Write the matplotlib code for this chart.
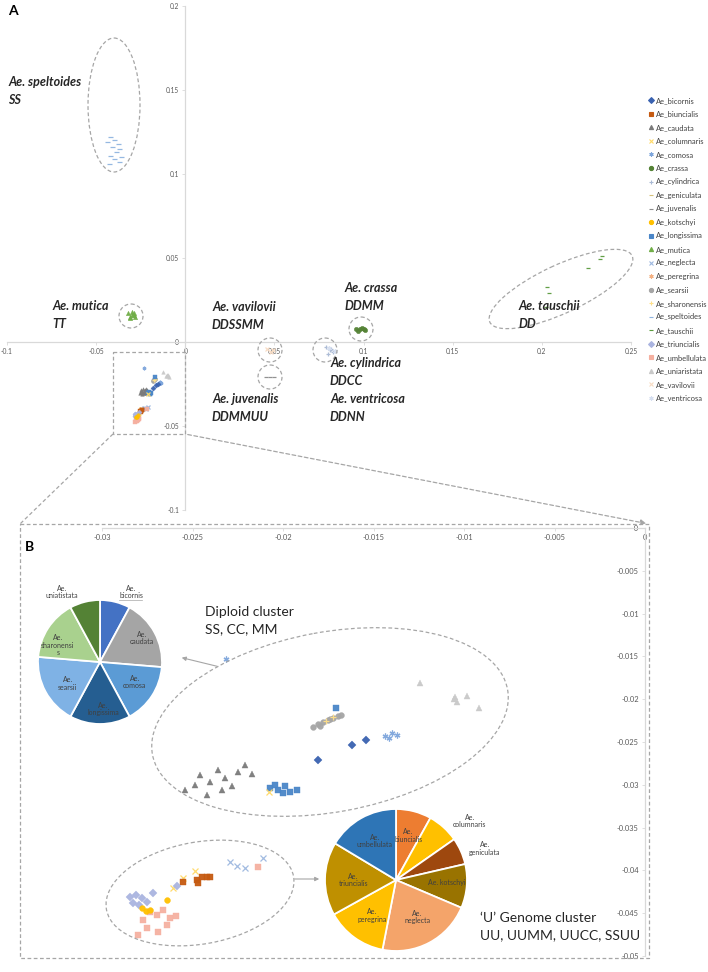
import matplotlib
matplotlib.use('Agg')
import matplotlib.pyplot as plt
from matplotlib.patches import Ellipse, Rectangle, FancyArrowPatch
from matplotlib.lines import Line2D
import numpy as np

plt.rcParams['font.family'] = ['Lato', 'DejaVu Sans']

# ---------------- DATA ----------------
SPECIES = ['Ae_bicornis', 'Ae_biuncialis', 'Ae_caudata', 'Ae_columnaris', 'Ae_comosa',
           'Ae_crassa', 'Ae_cylindrica', 'Ae_geniculata', 'Ae_juvenalis', 'Ae_kotschyi',
           'Ae_longissima', 'Ae_mutica', 'Ae_neglecta', 'Ae_peregrina', 'Ae_searsii',
           'Ae_sharonensis', 'Ae_speltoides', 'Ae_tauschii', 'Ae_triuncialis',
           'Ae_umbellulata', 'Ae_uniaristata', 'Ae_vavilovii', 'Ae_ventricosa']

# Panel A (whole PCA)
A_SPELTOIDES_X = [-0.042, -0.040, -0.038, -0.041, -0.037, -0.039, -0.042, -0.036, -0.040, -0.044, -0.043, -0.037]
A_SPELTOIDES_Y = [0.122, 0.120, 0.118, 0.116, 0.115, 0.113, 0.111, 0.110, 0.109, 0.119, 0.106, 0.107]
A_MUTICA_X = [-0.032, -0.031, -0.029, -0.030, -0.028, -0.031, -0.029, -0.030]
A_MUTICA_Y = [0.017, 0.015, 0.016, 0.018, 0.015, 0.014, 0.017, 0.016]
A_VAVILOVII_X = [0.046, 0.048, 0.049]
A_VAVILOVII_Y = [-0.004, -0.006, -0.005]
A_JUVENALIS_X = [0.045, 0.0475, 0.050]
A_JUVENALIS_Y = [-0.021, -0.0208, -0.021]
A_CRASSA_X = [0.096, 0.098, 0.100, 0.101, 0.097, 0.099]
A_CRASSA_Y = [0.0075, 0.0080, 0.0078, 0.0072, 0.0068, 0.0085]
A_CYLINDRICA_X = [0.079, 0.081, 0.083, 0.080, 0.082]
A_CYLINDRICA_Y = [-0.003, -0.005, -0.006, -0.007, -0.004]
A_VENTRICOSA_X = [0.084, 0.0805]
A_VENTRICOSA_Y = [-0.0055, -0.0035]
A_TAUSCHII_X = [0.2326, 0.2337, 0.226, 0.203, 0.204, 0.2023]
A_TAUSCHII_Y = [0.0494, 0.0512, 0.044, 0.0327, 0.0292, 0.0208]

# Panel B (zoom of the lower-left cluster)
B_UNIARISTATA_X = [-0.01243, -0.0105, -0.00983, -0.00917, -0.01039, -0.01055]
B_UNIARISTATA_Y = [-0.0181, -0.0197, -0.0196, -0.0210, -0.0203, -0.0200]
B_LONGISSIMA_X = [-0.01707, -0.02072, -0.02028, -0.01989, -0.01961, -0.01923, -0.0200, -0.02044]
B_LONGISSIMA_Y = [-0.0210, -0.0304, -0.0306, -0.0301, -0.0308, -0.0306, -0.0310, -0.0300]
B_SEARSII_X = [-0.01834, -0.01807, -0.01779, -0.01751, -0.01724, -0.01696, -0.0168, -0.01796, -0.0174]
B_SEARSII_Y = [-0.02325, -0.0229, -0.02266, -0.02243, -0.0222, -0.02196, -0.02185, -0.02313, -0.02231]
B_SHARONENSIS_X = [-0.01724, -0.0176]
B_SHARONENSIS_Y = [-0.02208, -0.0226]
B_COMOSA_X = [-0.02315, -0.01436, -0.01398, -0.0137, -0.01414]
B_COMOSA_Y = [-0.0153, -0.0243, -0.02395, -0.02418, -0.02453]
B_CAUDATA_X = [-0.02541, -0.02459, -0.02403, -0.02359, -0.0232, -0.02282, -0.02249, -0.0221, -0.02171, -0.02337, -0.0242, -0.02486]
B_CAUDATA_Y = [-0.0306, -0.02886, -0.02967, -0.02827, -0.0292, -0.03014, -0.0285, -0.02769, -0.02874, -0.0306, -0.03119, -0.03002]
B_BICORNIS_X = [-0.01619, -0.01541, -0.01807]
B_BICORNIS_Y = [-0.02535, -0.02477, -0.0271]
B_COLUMNARIS_X = [-0.02077, -0.02552, -0.02486, -0.02608]
B_COLUMNARIS_Y = [-0.03084, -0.04089, -0.04007, -0.04206]
B_NEGLECTA_X = [-0.02293, -0.02254, -0.0221, -0.0211]
B_NEGLECTA_Y = [-0.0390, -0.03949, -0.03972, -0.03855]
B_UMBELLULATA_X = [-0.02138, -0.02735, -0.02696, -0.02663, -0.02624, -0.02591, -0.02773, -0.0275, -0.0269, -0.0264, -0.0280]
B_UMBELLULATA_Y = [-0.0396, -0.04486, -0.04521, -0.04463, -0.04556, -0.04533, -0.0458, -0.04673, -0.0472, -0.04638, -0.04755]
B_BIUNCIALIS_X = [-0.02552, -0.02475, -0.02448, -0.0242, -0.02403, -0.0247]
B_BIUNCIALIS_Y = [-0.04136, -0.04112, -0.04077, -0.04077, -0.04077, -0.04147]
B_TRIUNCIALIS_X = [-0.02845, -0.02812, -0.02779, -0.02751, -0.02829, -0.02796, -0.02718, -0.02586]
B_TRIUNCIALIS_Y = [-0.04311, -0.04287, -0.04322, -0.04369, -0.04381, -0.04404, -0.04264, -0.04182]
B_KOTSCHYI_X = [-0.02641, -0.02779, -0.02757, -0.02735]
B_KOTSCHYI_Y = [-0.04346, -0.04439, -0.04474, -0.04463]

# Pie charts (accession counts)
PIE1_LABELS = ['Ae.\nbicornis', 'Ae.\ncaudata', 'Ae.\ncomosa', 'Ae.\nlongissima',
               'Ae.\nsearsii', 'Ae.\nsharonensi\ns', 'Ae.\nuniatistata']
PIE1_VALUES = [3, 7, 6, 6, 7, 6, 3]
PIE2_LABELS = ['Ae.\nbiuncialis', 'Ae.\ncolumnaris', 'Ae.\ngeniculata', 'Ae. kotschyi',
               'Ae.\nneglecta', 'Ae.\nperegrina', 'Ae.\ntriuncialis', 'Ae.\numbellulata']
PIE2_VALUES = [29, 26, 22, 36, 78, 50, 60, 59]

# ---------------- STYLE ----------------
AST = (6, 2, 0)
STYLE = {
    'Ae_bicornis': ('D', '#3a62b0'), 'Ae_biuncialis': ('s', '#c55a11'),
    'Ae_caudata': ('^', '#7a7a7a'), 'Ae_columnaris': ('x', '#ffd966'),
    'Ae_comosa': (AST, '#7ea6dc'), 'Ae_crassa': ('o', '#548235'),
    'Ae_cylindrica': ('+', '#a9b9d4'), 'Ae_geniculata': ('_', '#d6c27a'),
    'Ae_juvenalis': ('_', '#8c8c8c'), 'Ae_kotschyi': ('o', '#ffc000'),
    'Ae_longissima': ('s', '#4a86c8'), 'Ae_mutica': ('^', '#70ad47'),
    'Ae_neglecta': ('x', '#9db8e0'), 'Ae_peregrina': (AST, '#f4b183'),
    'Ae_searsii': ('o', '#a5a5a5'), 'Ae_sharonensis': ('+', '#ffe08a'),
    'Ae_speltoides': ('_', '#8fb4e0'), 'Ae_tauschii': ('_', '#5a9a3c'),
    'Ae_triuncialis': ('D', '#aab4e0'), 'Ae_umbellulata': ('s', '#f5b0a0'),
    'Ae_uniaristata': ('^', '#c9c9c9'), 'Ae_vavilovii': ('x', '#f8dcc4'),
    'Ae_ventricosa': (AST, '#d6dff0'),
}
PIE1_COLORS = ['#4472c4', '#a5a5a5', '#5b9bd5', '#255e91', '#7fb2e5', '#a9d18e', '#548235']
PIE2_COLORS = ['#ed7d31', '#ffc000', '#9e480e', '#997300', '#f4a46a', '#ffc000', '#bf9000', '#2e75b6']

W, H = 708, 972
fig = plt.figure(figsize=(W / 100, H / 100), dpi=100)


def rect(x0, y0, x1, y1):
    return [x0 / W, 1 - y1 / H, (x1 - x0) / W, (y1 - y0) / H]


AXC = '#d9d9d9'
TXC = '#595959'


def excel_axes(ax, xt, yt, fs):
    for s in ['top', 'right']:
        ax.spines[s].set_visible(False)
    ax.spines['left'].set_position(('data', 0))
    ax.spines['bottom'].set_position(('data', 0))
    for s in ['left', 'bottom']:
        ax.spines[s].set_color(AXC)
        ax.spines[s].set_linewidth(0.9)
    ax.set_xticks(xt)
    ax.set_yticks(yt)
    ax.set_xticklabels([f'{round(v, 3):g}' for v in xt])
    ax.set_yticklabels([f'{round(v, 3):g}' for v in yt])
    ax.tick_params(colors=AXC, labelcolor=TXC, labelsize=fs, length=2.5, width=0.6, pad=2)
    ax.patch.set_alpha(0)


# ---------------- PANEL A ----------------
axA = fig.add_axes(rect(7, 6, 631, 510))
axA.set_xlim(-0.1, 0.25)
axA.set_ylim(-0.1, 0.2)
excel_axes(axA, np.arange(-0.1, 0.2501, 0.05), np.arange(-0.1, 0.2001, 0.05), 4.8)

A_SETS = [('Ae_speltoides', A_SPELTOIDES_X, A_SPELTOIDES_Y), ('Ae_mutica', A_MUTICA_X, A_MUTICA_Y),
          ('Ae_vavilovii', A_VAVILOVII_X, A_VAVILOVII_Y), ('Ae_juvenalis', A_JUVENALIS_X, A_JUVENALIS_Y),
          ('Ae_crassa', A_CRASSA_X, A_CRASSA_Y), ('Ae_cylindrica', A_CYLINDRICA_X, A_CYLINDRICA_Y),
          ('Ae_ventricosa', A_VENTRICOSA_X, A_VENTRICOSA_Y), ('Ae_tauschii', A_TAUSCHII_X, A_TAUSCHII_Y)]
B_SETS = [('Ae_uniaristata', B_UNIARISTATA_X, B_UNIARISTATA_Y), ('Ae_searsii', B_SEARSII_X, B_SEARSII_Y),
          ('Ae_sharonensis', B_SHARONENSIS_X, B_SHARONENSIS_Y), ('Ae_caudata', B_CAUDATA_X, B_CAUDATA_Y),
          ('Ae_longissima', B_LONGISSIMA_X, B_LONGISSIMA_Y), ('Ae_comosa', B_COMOSA_X, B_COMOSA_Y),
          ('Ae_bicornis', B_BICORNIS_X, B_BICORNIS_Y), ('Ae_columnaris', B_COLUMNARIS_X, B_COLUMNARIS_Y),
          ('Ae_neglecta', B_NEGLECTA_X, B_NEGLECTA_Y), ('Ae_umbellulata', B_UMBELLULATA_X, B_UMBELLULATA_Y),
          ('Ae_biuncialis', B_BIUNCIALIS_X, B_BIUNCIALIS_Y), ('Ae_triuncialis', B_TRIUNCIALIS_X, B_TRIUNCIALIS_Y),
          ('Ae_kotschyi', B_KOTSCHYI_X, B_KOTSCHYI_Y)]


def draw(ax, name, xs, ys, ms):
    m, c = STYLE[name]
    filled = m not in ('x', '+', '_', AST)
    ax.plot(xs, ys, linestyle='none', marker=m, color=c, markersize=ms,
            markeredgewidth=0.9 if not filled else 0.3, markeredgecolor=c, alpha=0.95)


for n, xs, ys in A_SETS:
    draw(axA, n, xs, ys, 3.6 if n == 'Ae_speltoides' else 3.2)
for n, xs, ys in B_SETS:
    draw(axA, n, xs, ys, 2.6)

# legend
handles = []
for n in SPECIES:
    m, c = STYLE[n]
    handles.append(Line2D([], [], linestyle='none', marker=m, color=c, markersize=3,
                          markeredgewidth=0.8))
fig.legend(handles, SPECIES, loc='upper left', bbox_to_anchor=(649 / W, 1 - 97 / H),
           frameon=False, fontsize=5.4, labelspacing=0.87, handlelength=0.6, handletextpad=0.3,
           borderaxespad=0, borderpad=0, labelcolor='#404040')

# ---------------- PANEL B ----------------
axB = fig.add_axes(rect(102, 528, 645, 956))
axB.set_xlim(-0.03, 0)
axB.set_ylim(-0.05, 0)
excel_axes(axB, np.arange(-0.03, 0.0001, 0.005), np.arange(-0.05, 0.0001, 0.005), 5.4)
for n, xs, ys in B_SETS:
    draw(axB, n, xs, ys, 4.2)

# pies
ax1 = fig.add_axes(rect(100 - 62, 662 - 62, 100 + 62, 662 + 62))
w1, _ = ax1.pie(PIE1_VALUES, colors=PIE1_COLORS, startangle=90, counterclock=False,
                wedgeprops=dict(edgecolor='white', linewidth=1.3))
ax1.set_xlim(-1, 1); ax1.set_ylim(-1, 1); ax1.set_axis_off()
P1_POS = [(0.50, 1.13), (0.68, 0.39), (0.56, -0.32), (0.05, -0.76), (-0.52, -0.35), (-0.68, 0.27), (-0.61, 1.13)]
for lab, (px, py) in zip(PIE1_LABELS, P1_POS):
    ax1.text(px, py, lab, ha='center', va='center', fontsize=5, color='#404040',
             linespacing=1.1, clip_on=False)

ax2 = fig.add_axes(rect(396 - 71, 880 - 71, 396 + 71, 880 + 71))
w2, _ = ax2.pie(PIE2_VALUES, colors=PIE2_COLORS, startangle=90, counterclock=False,
                wedgeprops=dict(edgecolor='white', linewidth=1.3))
ax2.set_xlim(-1, 1); ax2.set_ylim(-1, 1); ax2.set_axis_off()
P2_POS = [(0.17, 0.63), (1.04, 0.83), (1.25, 0.44), (0.72, -0.04), (0.30, -0.52), (-0.34, -0.50), (-0.60, 0.0), (-0.30, 0.55)]
for lab, (px, py) in zip(PIE2_LABELS, P2_POS):
    ax2.text(px, py, lab, ha='center', va='center', fontsize=5, color='#404040',
             linespacing=1.1, clip_on=False)

# ---------------- OVERLAY (annotations) ----------------
ov = fig.add_axes([0, 0, 1, 1])
ov.set_xlim(0, W); ov.set_ylim(H, 0); ov.set_axis_off(); ov.patch.set_alpha(0)
DC = '#a6a6a6'
dash = dict(fill=False, edgecolor=DC, linewidth=0.9, linestyle=(0, (3, 2)))
for (cx, cy, ew, eh, ang) in [(114, 105, 52, 134, 0), (131, 316, 24, 24, 0), (270, 350, 24, 24, 0),
                              (270, 377, 24, 24, 0), (361, 329, 24, 24, 0), (325, 350, 24, 24, 0),
                              (561, 289, 157, 48, -25), (330, 722, 361, 180, -10.4),
                              (200, 893, 190, 102, -10)]:
    ov.add_patch(Ellipse((cx, cy), ew, eh, angle=ang, **dash))
ov.add_patch(Rectangle((113, 352), 72, 82, **dash))
ov.add_patch(Rectangle((20, 524), 629, 434, **dash))
ov.plot([113, 20], [434, 524], color=DC, lw=0.9, ls=(0, (3, 2)))
ov.add_patch(FancyArrowPatch((185, 434), (649, 524), arrowstyle='-|>', mutation_scale=8,
                             color=DC, lw=0.9, linestyle=(0, (3, 2))))
ov.add_patch(FancyArrowPatch((220, 667), (179, 657), arrowstyle='-|>', mutation_scale=6,
                             color='#a6a6a6', lw=0.8))
ov.add_patch(FancyArrowPatch((292, 879), (322, 879), arrowstyle='-|>', mutation_scale=6,
                             color='#a6a6a6', lw=0.8))
ov.plot([119, 142], [600, 600], color='#a6a6a6', lw=0.5)

LB = dict(fontsize=9, fontweight='bold', fontstyle='italic', color='#262626', va='center', ha='left')
for x, y, t in [(8, 82, 'Ae. speltoides'), (8, 100, 'SS'), (52, 306, 'Ae. mutica'), (52, 324, 'TT'),
                (212, 307, 'Ae. vavilovii'), (212, 325, 'DDSSMM'), (212, 399, 'Ae. juvenalis'),
                (212, 417, 'DDMMUU'), (345, 288, 'Ae. crassa'), (345, 306, 'DDMM'),
                (330, 363, 'Ae. cylindrica'), (330, 381, 'DDCC'), (330, 399, 'Ae. ventricosa'),
                (330, 417, 'DDNN'), (519, 306, 'Ae. tauschii'), (519, 324, 'DD')]:
    ov.text(x, y, t, **LB)
ov.text(8, 11, 'A', fontsize=10, fontweight='bold', va='center', ha='left')
ov.text(25, 547, 'B', fontsize=10, fontweight='bold', va='center', ha='left')
CL = dict(fontsize=10, color='#262626', va='center', ha='left')
ov.text(205, 612, 'Diploid cluster', **CL)
ov.text(205, 629, 'SS, CC, MM', **CL)
ov.text(480, 918, '\u2018U\u2019 Genome cluster', **CL)
ov.text(480, 935, 'UU, UUMM, UUCC, SSUU', **CL)

fig.savefig('out.png', dpi=100)
